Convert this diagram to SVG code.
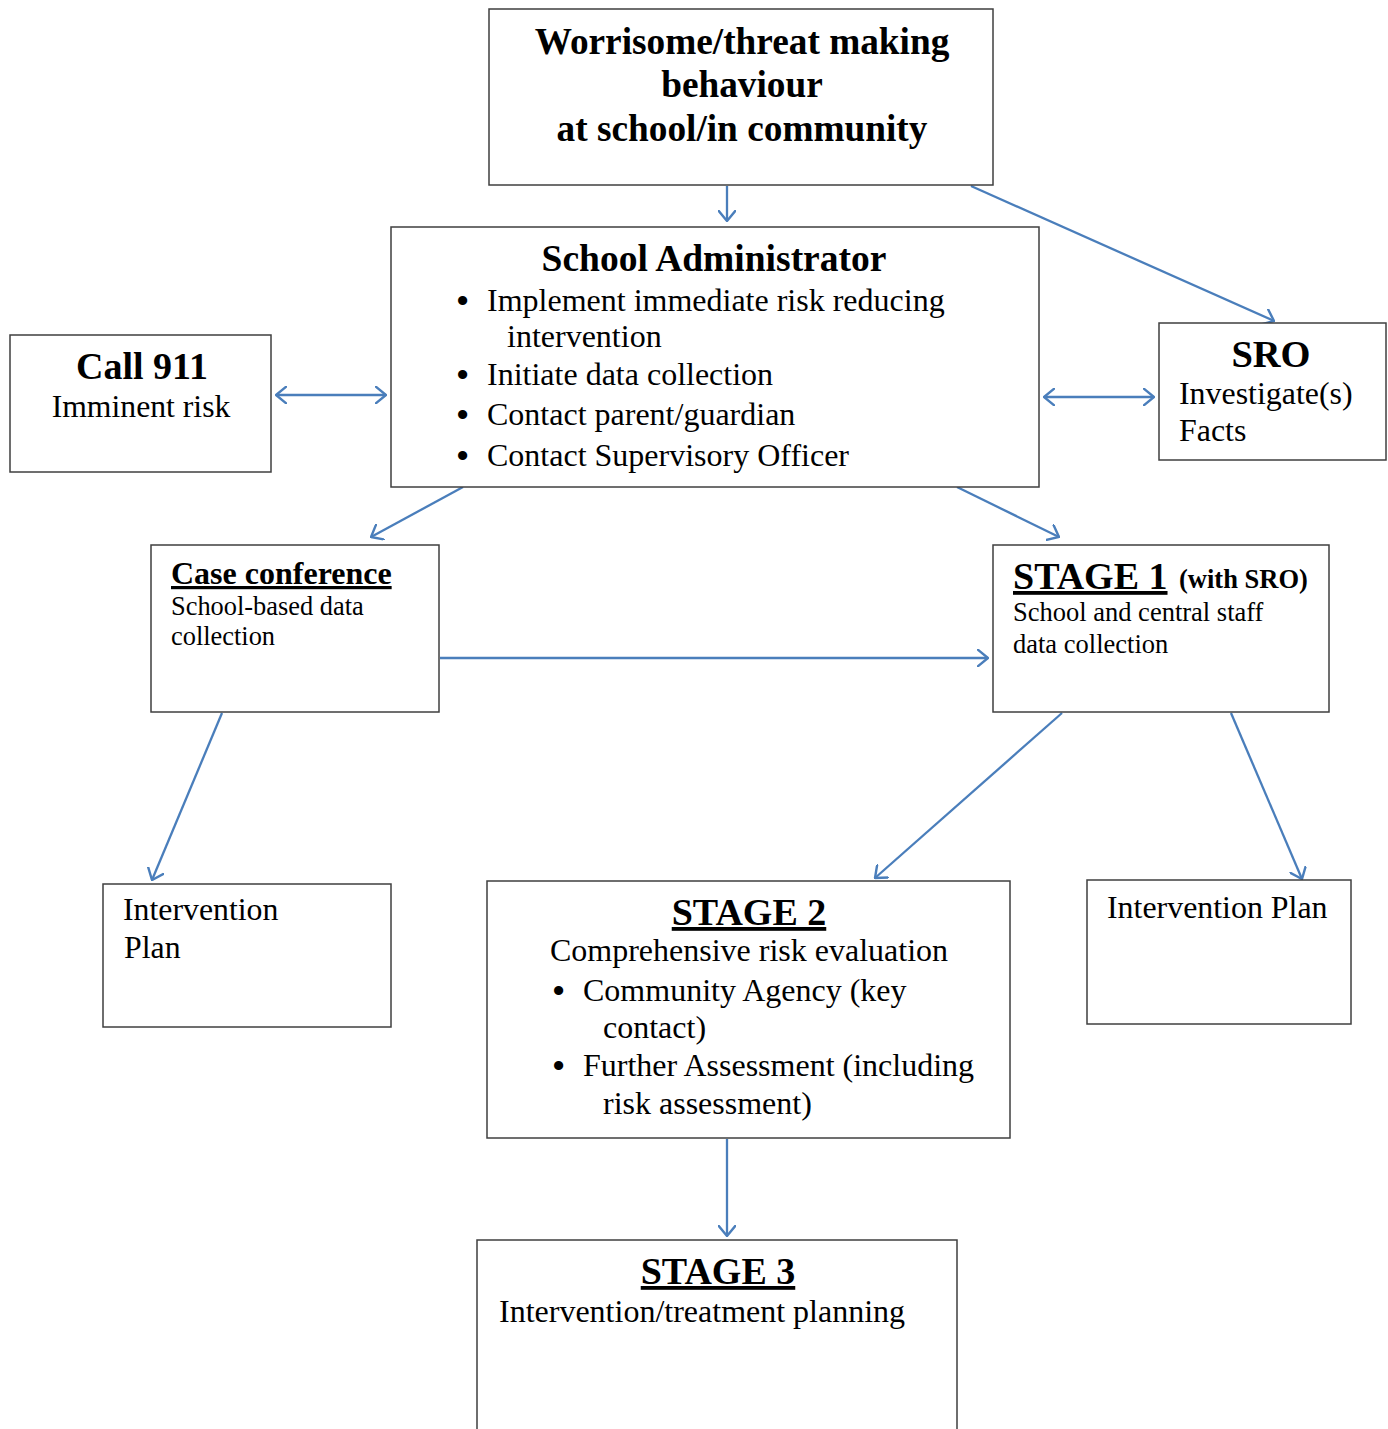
<svg xmlns="http://www.w3.org/2000/svg" width="1388" height="1429" viewBox="0 0 1388 1429">
<style>
.box{fill:#fff;stroke:#3f3f3f;stroke-width:1.5}
.t{font-family:"Liberation Serif","Times New Roman",serif;fill:#000}
.b{font-weight:bold}
.c{text-anchor:middle}
.u{text-decoration:underline}
.bul{font-family:"Liberation Sans",Arial,sans-serif;font-weight:bold}
.conn{stroke:#4a7ebb;stroke-width:2.3;fill:none}
</style>
<defs>
<marker id="ah" viewBox="0 0 12 18" refX="11" refY="9" markerWidth="12" markerHeight="18" markerUnits="userSpaceOnUse" orient="auto-start-reverse">
<path d="M0,0 L11,9 L0,18" fill="none" stroke="#4a7ebb" stroke-width="2.4"/>
</marker>
</defs>
<rect width="1388" height="1429" fill="#fff"/>
<g id="connectors">
<line class="conn" x1="727" y1="186" x2="727" y2="221" marker-end="url(#ah)"/>
<line class="conn" x1="971" y1="186" x2="1274" y2="321" marker-end="url(#ah)"/>
<line class="conn" x1="276" y1="395" x2="386" y2="395" marker-start="url(#ah)" marker-end="url(#ah)"/>
<line class="conn" x1="1044" y1="397" x2="1154" y2="397" marker-start="url(#ah)" marker-end="url(#ah)"/>
<line class="conn" x1="463" y1="487" x2="371" y2="537" marker-end="url(#ah)"/>
<line class="conn" x1="957" y1="487" x2="1059" y2="537" marker-end="url(#ah)"/>
<line class="conn" x1="440" y1="658" x2="988" y2="658" marker-end="url(#ah)"/>
<line class="conn" x1="222" y1="713" x2="152" y2="880" marker-end="url(#ah)"/>
<line class="conn" x1="1062" y1="713" x2="875" y2="878" marker-end="url(#ah)"/>
<line class="conn" x1="1231" y1="713" x2="1302" y2="879" marker-end="url(#ah)"/>
<line class="conn" x1="727" y1="1139" x2="727" y2="1236" marker-end="url(#ah)"/>
</g>
<g id="top">
<rect class="box" x="489" y="9" width="504" height="176"/>
<text class="t b c" x="742" y="54" font-size="37.3">Worrisome/threat making</text>
<text class="t b c" x="742" y="97" font-size="37.3">behaviour</text>
<text class="t b c" x="742" y="141" font-size="37.3">at school/in community</text>
</g>
<g id="admin">
<rect class="box" x="391" y="227" width="648" height="260"/>
<text class="t b c" x="714" y="271" font-size="37.5">School Administrator</text>
<g class="t" font-size="32">
<text class="bul" x="457" y="311">•</text><text x="487" y="311">Implement immediate risk reducing</text>
<text x="507" y="347">intervention</text>
<text class="bul" x="457" y="385">•</text><text x="487" y="385">Initiate data collection</text>
<text class="bul" x="457" y="425">•</text><text x="487" y="425">Contact parent/guardian</text>
<text class="bul" x="457" y="466">•</text><text x="487" y="466">Contact Supervisory Officer</text>
</g>
</g>
<g id="call911">
<rect class="box" x="10" y="335" width="261" height="137"/>
<text class="t b c" x="142" y="379" font-size="38">Call 911</text>
<text class="t c" x="141" y="417" font-size="31.7">Imminent risk</text>
</g>
<g id="sro">
<rect class="box" x="1159" y="323" width="227" height="137"/>
<text class="t b c" x="1271" y="367" font-size="38.5">SRO</text>
<text class="t" x="1179" y="404" font-size="31.9">Investigate(s)</text>
<text class="t" x="1179" y="441" font-size="31.9">Facts</text>
</g>
<g id="caseconf">
<rect class="box" x="151" y="545" width="288" height="167"/>
<text class="t b u" x="171" y="584" font-size="32">Case conference</text>
<text class="t" x="171" y="615" font-size="26.4">School-based data</text>
<text class="t" x="171" y="645" font-size="26.4">collection</text>
</g>
<g id="stage1">
<rect class="box" x="993" y="545" width="336" height="167"/>
<text class="t b u" x="1013" y="589" font-size="38">STAGE 1</text>
<text class="t b" x="1179" y="588" font-size="26.5">(with SRO)</text>
<text class="t" x="1013" y="621" font-size="26.5">School and central staff</text>
<text class="t" x="1013" y="653" font-size="26.5">data collection</text>
</g>
<g id="intplan-left">
<rect class="box" x="103" y="884" width="288" height="143"/>
<text class="t" x="123" y="920" font-size="31.8">Intervention</text>
<text class="t" x="124" y="958" font-size="31.8">Plan</text>
</g>
<g id="stage2">
<rect class="box" x="487" y="881" width="523" height="257"/>
<text class="t b u c" x="749" y="925" font-size="38">STAGE 2</text>
<text class="t c" x="749" y="961" font-size="32">Comprehensive risk evaluation</text>
<g class="t" font-size="32">
<text class="bul" x="553" y="1001">•</text><text x="583" y="1001">Community Agency (key</text>
<text x="603" y="1038">contact)</text>
<text class="bul" x="553" y="1076">•</text><text x="583" y="1076">Further Assessment (including</text>
<text x="603" y="1114">risk assessment)</text>
</g>
</g>
<g id="intplan-right">
<rect class="box" x="1087" y="880" width="264" height="144"/>
<text class="t" x="1107" y="918" font-size="31.9">Intervention Plan</text>
</g>
<g id="stage3">
<path class="box" d="M477,1440 L477,1240 L957,1240 L957,1440"/>
<text class="t b u c" x="718" y="1284" font-size="38">STAGE 3</text>
<text class="t" x="499" y="1322" font-size="32">Intervention/treatment planning</text>
</g>
</svg>
